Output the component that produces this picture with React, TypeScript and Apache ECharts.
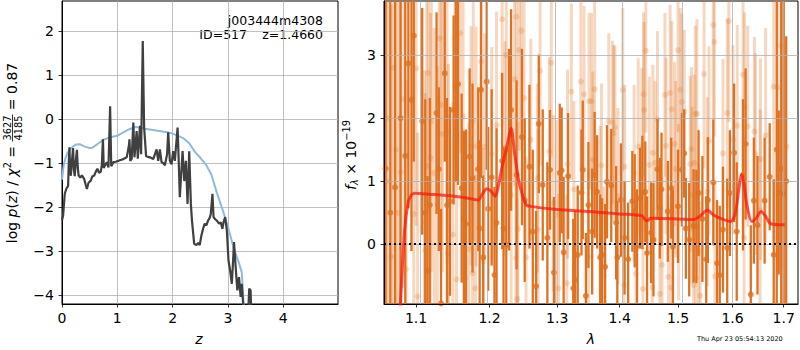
import React, { useEffect, useRef } from "react";
import * as echarts from "echarts";

// ---------- Left panel: log p(z) ----------
const zGrid = [0.0, 0.02, 0.05, 0.08, 0.11, 0.125, 0.135, 0.145, 0.16, 0.18, 0.2, 0.215, 0.23, 0.25, 0.27, 0.285, 0.3, 0.33, 0.36, 0.4, 0.43, 0.45, 0.48, 0.52, 0.55, 0.58, 0.61, 0.64, 0.67, 0.7, 0.72, 0.74, 0.755, 0.78, 0.81, 0.84, 0.87, 0.89, 0.93, 0.97, 1.02, 1.06, 1.11, 1.17, 1.21, 1.22, 1.235, 1.26, 1.29, 1.31, 1.35, 1.37, 1.41, 1.43, 1.46, 1.485, 1.52, 1.55, 1.59, 1.65, 1.71, 1.74, 1.77, 1.8, 1.83, 1.86, 1.9, 1.92, 1.95, 1.98, 2.01, 2.04, 2.09, 2.11, 2.13, 2.18, 2.21, 2.24, 2.27, 2.3, 2.33, 2.35, 2.39, 2.43, 2.46, 2.49, 2.52, 2.55, 2.58, 2.61, 2.64, 2.67, 2.69, 2.72, 2.74, 2.77, 2.8, 2.84, 2.87, 2.9, 2.92, 2.95, 2.98, 3.01, 3.04, 3.07, 3.09, 3.11, 3.14, 3.17, 3.2, 3.23, 3.25, 3.28, 3.31, 3.36, 3.385, 3.41, 3.43];
const logPz = [-2.3, -2.2, -1.7, -1.58, -1.52, -0.9, -0.64, -1.1, -1.29, -0.95, -0.66, -1.15, -1.3, -0.95, -0.7, -1.1, -1.28, -1.33, -1.28, -1.36, -1.5, -1.59, -1.45, -1.4, -1.3, -1.29, -1.2, -1.13, -1.22, -1.2, -1.05, -0.46, -1.11, -1.05, -0.98, -1.1, 0.29, -1.07, -0.98, -0.97, -0.95, -0.93, -0.91, -0.87, -0.6, -0.46, -0.95, -0.9, -0.08, -0.87, -0.27, -0.9, -0.15, -0.8, 1.78, -0.19, -0.84, -0.86, -0.87, -0.91, -0.69, -0.95, -0.69, -0.98, -1.0, -1.05, -0.8, -0.3, -0.95, -1.03, -0.73, -0.95, -0.19, -0.95, -1.78, -0.73, -1.41, -0.95, -1.93, -0.73, -1.93, -2.31, -2.84, -2.87, -2.82, -2.87, -2.65, -2.5, -2.38, -2.42, -2.31, -2.25, -2.16, -1.7, -2.23, -2.28, -2.31, -2.38, -2.35, -2.5, -2.35, -2.23, -2.53, -3.22, -3.45, -3.75, -3.3, -2.8, -3.37, -3.9, -3.6, -4.05, -3.75, -4.3, -4.6, -4.6, -3.86, -3.9, -4.8];

const zPrior = [0.0, 0.03, 0.06, 0.1, 0.15, 0.2, 0.25, 0.32, 0.4, 0.5, 0.55, 0.65, 0.75, 0.85, 1.0, 1.1, 1.2, 1.32, 1.4, 1.5, 1.7, 1.9, 2.0, 2.1, 2.2, 2.3, 2.4, 2.5, 2.6, 2.7, 2.8, 2.9, 3.0, 3.1, 3.2, 3.25, 3.27, 3.29];
const logPrior = [-1.38, -1.05, -0.9, -0.77, -0.68, -0.62, -0.58, -0.57, -0.62, -0.66, -0.65, -0.56, -0.47, -0.42, -0.38, -0.31, -0.24, -0.18, -0.19, -0.22, -0.26, -0.3, -0.33, -0.38, -0.44, -0.55, -0.74, -0.88, -1.03, -1.26, -1.68, -2.05, -2.45, -2.92, -3.28, -3.49, -3.9, -4.4];

const zTicks = [0, 1, 2, 3, 4];
const pzTicks = [-4, -3, -2, -1, 0, 1, 2];

// ---------- Right panel: spectrum ----------
const darkLam = [1.061, 1.067, 1.073, 1.08, 1.086, 1.09, 1.094, 1.097, 1.108, 1.112, 1.115, 1.118, 1.127, 1.13, 1.133, 1.138, 1.141, 1.145, 1.15, 1.153, 1.156, 1.161, 1.164, 1.167, 1.172, 1.176, 1.184, 1.186, 1.188, 1.191, 1.196, 1.198, 1.203, 1.207, 1.21, 1.218, 1.22, 1.224, 1.228, 1.231, 1.239, 1.247, 1.251, 1.258, 1.263, 1.268, 1.272, 1.278, 1.285, 1.289, 1.295, 1.304, 1.307, 1.31, 1.317, 1.325, 1.328, 1.332, 1.338, 1.34, 1.345, 1.349, 1.355, 1.359, 1.363, 1.368, 1.371, 1.376, 1.379, 1.386, 1.394, 1.396, 1.402, 1.408, 1.414, 1.421, 1.425, 1.429, 1.434, 1.438, 1.443, 1.446, 1.453, 1.457, 1.464, 1.468, 1.471, 1.482, 1.488, 1.491, 1.5, 1.507, 1.511, 1.514, 1.52, 1.528, 1.533, 1.537, 1.544, 1.551, 1.554, 1.564, 1.571, 1.576, 1.582, 1.59, 1.595, 1.603, 1.608, 1.62, 1.625, 1.635, 1.641, 1.648, 1.662, 1.672, 1.68, 1.686, 1.69, 1.695, 1.7, 1.705];
const darkFlux = [1.2, 0.5, 0.9, 2.0, 1.4, 2.87, 2.29, 3.31, 1.95, 0.5, -0.42, 0.62, 2.08, 1.19, -0.94, 2.71, 0.62, 0.68, 2.13, 2.49, 2.54, 0.89, 0.4, 0.32, 1.39, 1.05, 1.19, 0.25, 2.45, -0.21, 2.58, 0.56, 1.06, -0.49, 0.34, 1.32, 0.25, -0.01, 1.5, 2.13, 1.1, 1.7, 0.7, 1.23, 0.2, -0.67, 1.91, 0.94, 0.1, 1.18, -0.45, 1.13, 1.17, -0.13, 1.08, -0.7, -0.57, -0.17, 0.82, 1.18, -0.82, 0.62, 0.2, 1.1, 0.83, -0.21, -0.17, -0.36, 0.99, 0.93, 0.34, -0.21, 0.7, 0.1, -0.24, 0.68, 0.53, -0.03, 0.73, 0.82, 0.83, -0.14, 0.18, 0.07, 1.19, 0.57, 0.87, 0.52, 0.89, -0.04, 0.6, 1.18, 1.44, 0.25, 0.07, 0.29, 0.28, 0.81, 0.4, -0.24, 0.7, 0.98, -0.3, -0.49, 0.23, -0.06, 0.81, 1.45, 0.2, 1.1, 1.59, -0.8, 0.69, 0.3, 0.69, 1.07, -0.17, 1.5, 0.82, 1.2, 0.8, 1.0];
const darkErr = [4.0, 4.0, 3.8, 3.5, 3.0, 2.3, 2.4, 2.0, 1.8, 1.8, 1.5, 1.7, 1.6, 1.3, 1.5, 1.4, 1.7, 1.5, 1.5, 1.5, 1.6, 1.5, 1.4, 1.5, 1.4, 1.5, 1.3, 1.4, 1.4, 1.3, 1.4, 1.3, 1.4, 1.4, 1.5, 1.4, 1.3, 1.5, 1.6, 1.6, 1.5, 1.4, 1.3, 1.3, 1.3, 1.2, 1.1, 1.2, 1.2, 0.95, 1.2, 1.1, 1.0, 1.2, 1.0, 1.1, 1.1, 1.1, 1.0, 1.1, 1.0, 1.0, 1.0, 1.0, 0.9, 1.0, 0.9, 1.0, 0.9, 0.9, 0.9, 0.9, 0.9, 0.9, 0.9, 0.8, 0.9, 0.9, 0.8, 0.9, 0.8, 0.9, 0.8, 0.9, 0.8, 0.8, 0.9, 0.8, 0.8, 0.9, 0.9, 0.9, 0.7, 0.8, 0.9, 0.9, 0.9, 1.0, 1.0, 1.0, 1.0, 1.0, 1.0, 1.1, 1.0, 1.1, 1.0, 1.1, 1.1, 1.2, 1.2, 1.1, 1.0, 1.1, 1.0, 0.85, 1.2, 4.0, 1.3, 3.0, 4.5, 2.3];

const lightLam = [1.062, 1.065, 1.068, 1.071, 1.074, 1.077, 1.08, 1.084, 1.087, 1.097, 1.1, 1.102, 1.111, 1.112, 1.114, 1.116, 1.119, 1.12, 1.124, 1.128, 1.131, 1.133, 1.135, 1.141, 1.142, 1.143, 1.149, 1.152, 1.154, 1.159, 1.163, 1.166, 1.171, 1.174, 1.176, 1.177, 1.18, 1.181, 1.188, 1.191, 1.193, 1.203, 1.21, 1.218, 1.222, 1.224, 1.231, 1.236, 1.238, 1.239, 1.24, 1.241, 1.243, 1.246, 1.25, 1.253, 1.26, 1.27, 1.271, 1.274, 1.288, 1.291, 1.294, 1.299, 1.302, 1.315, 1.316, 1.322, 1.326, 1.337, 1.342, 1.349, 1.35, 1.354, 1.356, 1.359, 1.368, 1.37, 1.374, 1.382, 1.388, 1.39, 1.392, 1.397, 1.405, 1.407, 1.408, 1.424, 1.427, 1.431, 1.437, 1.439, 1.44, 1.441, 1.444, 1.45, 1.455, 1.456, 1.46, 1.464, 1.468, 1.472, 1.477, 1.479, 1.483, 1.486, 1.488, 1.489, 1.494, 1.496, 1.5, 1.501, 1.504, 1.507, 1.511, 1.522, 1.524, 1.525, 1.528, 1.529, 1.531, 1.532, 1.534, 1.537, 1.54, 1.547, 1.553, 1.556, 1.564, 1.566, 1.567, 1.582, 1.59, 1.593, 1.601, 1.609, 1.62, 1.622, 1.623, 1.629, 1.642, 1.644, 1.653, 1.654, 1.664, 1.68, 1.688, 1.695, 1.706];
const lightFlux = [1.0, 2.0, -0.2, 2.8, 1.5, 0.5, 1.14, 2.3, -0.4, 0.48, 2.79, -0.83, 0.36, -0.1, 1.24, 2.72, 1.37, 1.95, 1.13, 0.63, 3.27, 2.21, 1.75, 1.79, -0.15, 0.86, 0.15, 3.28, -0.56, 3.35, 2.03, -0.54, -0.08, 1.56, -0.46, 1.95, -0.7, 1.55, 2.9, -0.28, 1.55, 1.43, 1.89, 3.57, 1.52, 3.0, 0.77, 2.62, -0.22, 3.61, -0.87, 0.24, 3.08, 3.39, 2.32, -0.21, 1.66, 1.05, 0.23, 2.75, 1.47, 2.88, 0.65, 0.47, -0.7, -0.62, 1.27, 2.42, 0.87, 2.58, 2.38, -0.2, 2.27, 2.27, 1.34, 2.46, 0.48, 1.25, -0.49, 1.95, 1.93, 1.76, 1.85, 0.76, 2.45, -0.65, 1.23, 1.13, -0.47, 1.55, 1.5, -0.71, 2.38, 2.13, 3.07, 1.26, -0.69, 1.45, 1.29, 1.98, -0.79, -0.33, 2.37, 1.56, -0.52, 2.4, -0.69, 2.14, 1.59, 1.19, 3.08, 0.51, 2.45, 2.26, 2.1, 1.27, 1.51, 0.78, -0.65, 1.29, 2.07, -0.54, 2.07, -0.12, -0.82, 2.7, 0.83, 1.64, 3.48, 3.21, -0.51, 1.44, 2.08, 3.54, 1.66, 1.88, 2.69, 0.1, 2.18, 1.87, 1.79, 1.43, 0.54, 1.35, 1.73, 2.5, 2.49, 3.15, 1.55];
const lightErr = [4.0, 4.0, 4.0, 4.0, 3.5, 3.5, 3.0, 3.0, 3.0, 2.8, 2.5, 2.6, 2.4, 2.5, 2.6, 2.2, 2.3, 2.4, 2.3, 2.2, 2.0, 2.3, 2.2, 2.1, 2.2, 2.0, 2.1, 2.0, 2.0, 1.9, 2.0, 1.9, 2.0, 1.9, 1.8, 1.9, 1.8, 1.9, 1.8, 1.8, 1.8, 1.7, 1.8, 1.7, 1.7, 1.8, 1.7, 1.7, 1.6, 1.6, 1.6, 1.7, 1.6, 1.7, 1.6, 1.6, 1.6, 1.5, 1.6, 1.5, 1.5, 1.5, 1.4, 1.5, 1.5, 1.4, 1.5, 1.4, 1.4, 1.4, 1.4, 1.4, 1.4, 1.4, 1.4, 1.4, 1.4, 1.3, 1.4, 1.4, 1.3, 1.4, 1.3, 1.4, 1.3, 1.4, 1.3, 1.4, 1.3, 1.4, 1.3, 1.4, 1.3, 1.4, 1.3, 1.4, 1.3, 1.4, 1.3, 1.4, 1.3, 1.4, 1.3, 1.4, 1.3, 1.4, 1.3, 1.4, 1.3, 1.4, 1.3, 1.4, 1.3, 1.4, 1.3, 1.4, 1.3, 1.4, 1.4, 1.4, 1.4, 1.4, 1.5, 1.4, 1.5, 1.5, 1.5, 1.5, 1.5, 1.5, 1.5, 1.5, 1.5, 1.6, 1.5, 1.6, 1.5, 1.6, 1.5, 1.6, 1.5, 1.6, 1.6, 1.6, 1.7, 2.5, 3.0, 3.5];

const modelLam = [1.079, 1.085, 1.09, 1.094, 1.097, 1.12, 1.15, 1.17, 1.184, 1.19, 1.196, 1.202, 1.208, 1.213, 1.218, 1.225, 1.231, 1.236, 1.243, 1.253, 1.26, 1.3, 1.35, 1.4, 1.437, 1.441, 1.446, 1.452, 1.5, 1.528, 1.54, 1.553, 1.565, 1.58, 1.596, 1.605, 1.612, 1.617, 1.621, 1.628, 1.637, 1.646, 1.655, 1.664, 1.673, 1.69, 1.702];
const modelFlux = [-1.2, 0.2, 0.68, 0.78, 0.81, 0.79, 0.76, 0.73, 0.7, 0.8, 0.88, 0.84, 0.76, 0.95, 1.23, 1.56, 1.84, 1.45, 0.97, 0.63, 0.6, 0.55, 0.52, 0.48, 0.45, 0.41, 0.37, 0.41, 0.4, 0.39, 0.45, 0.54, 0.46, 0.4, 0.36, 0.48, 0.87, 1.1, 1.0, 0.6, 0.36, 0.42, 0.52, 0.44, 0.33, 0.31, 0.31];

const lamTicks = [1.1, 1.2, 1.3, 1.4, 1.5, 1.6, 1.7];
const fluxTicks = [0, 1, 2, 3];

const FONT = '"DejaVu Sans", sans-serif';
const RY_MIN = -0.95;
const RY_MAX = 3.86;
const DARK = "#df7222";
const LIGHT = "rgba(224,113,28,0.28)";

function minusFmt(v: number) {
  return v < 0 ? "\u2212" + String(Math.abs(v)) : String(v);
}

export default function App() {
  const ref = useRef<HTMLDivElement>(null);
  useEffect(() => {
    document.body.style.margin = "0";
    const chart = echarts.init(ref.current!, null, { renderer: "svg" });

    const ctx = document.createElement("canvas").getContext("2d")!;
    const tw = (t: string, s: number, it = false) => {
      ctx.font = `${it ? "italic " : ""}${s}px "DejaVu Sans"`;
      return ctx.measureText(t).width;
    };
    const txt = (t: string, x: number, y: number, s: number, it = false, align = "left") => ({
      type: "text",
      x,
      y,
      silent: true,
      style: {
        text: t,
        fill: "#000",
        font: `${it ? "italic " : ""}${s}px ${FONT}`,
        align,
        verticalAlign: "middle",
      },
    });

    type Part = { t?: string; s: number; it?: boolean; dy?: number; frac?: [string, string] };
    const leftParts: Part[] = [
      { t: "log ", s: 14 },
      { t: "p", s: 14, it: true },
      { t: "(", s: 14 },
      { t: "z", s: 14, it: true },
      { t: ") / ", s: 14 },
      { t: "\u03c7", s: 14, it: true },
      { t: "2", s: 9.8, dy: -5 },
      { t: " = ", s: 14 },
      { frac: ["3627", "4185"], s: 9.8 },
      { t: " = 0.87", s: 14 },
    ];
    const buildLabel = (parts: Part[]) => {
      const widths = parts.map((p) =>
        p.frac ? Math.max(tw(p.frac[0], p.s), tw(p.frac[1], p.s)) + 2 : tw(p.t!, p.s, p.it)
      );
      const total = widths.reduce((a, b) => a + b, 0);
      let cur = -total / 2;
      const children: any[] = [];
      parts.forEach((p, i) => {
        if (p.frac) {
          const w = widths[i];
          children.push(txt(p.frac[0], cur + w / 2, -5, p.s, false, "center"));
          children.push(txt(p.frac[1], cur + w / 2, 6, p.s, false, "center"));
          children.push({ type: "rect", silent: true, shape: { x: cur, y: 0, width: w, height: 0.8 }, style: { fill: "#000" } });
        } else {
          children.push(txt(p.t!, cur, p.dy || 0, p.s, p.it));
        }
        cur += widths[i];
      });
      return children;
    };
    const rightParts: Part[] = [
      { t: "f", s: 14, it: true },
      { t: "\u03bb", s: 9.8, it: true, dy: 3 },
      { t: " \u00d7 10", s: 14 },
      { t: "\u221219", s: 9.8, dy: -5 },
    ];

    const errSeries = (lam: number[], flux: number[], err: number[], color: string, width: number, z: number) => ({
      type: "custom",
      xAxisIndex: 1,
      yAxisIndex: 1,
      silent: true,
      z,
      data: lam.map((l, i) => [Math.log(l), flux[i] - err[i], flux[i] + err[i]]),
      renderItem: (params: any, api: any) => {
        const x = api.value(0);
        const lo = Math.max(api.value(1), RY_MIN);
        const hi = Math.min(api.value(2), RY_MAX);
        if (hi <= lo) return null;
        const p1 = api.coord([x, lo]);
        const p2 = api.coord([x, hi]);
        return {
          type: "line",
          shape: { x1: p1[0], y1: p1[1], x2: p2[0], y2: p2[1] },
          style: { stroke: color, lineWidth: width },
        };
      },
    });

    const axisCommon = {
      axisLine: { show: true, onZero: false, lineStyle: { color: "#000", width: 1 } },
      axisTick: { show: true, inside: false, length: 3.5, lineStyle: { color: "#000", width: 0.8 } },
      splitLine: { show: true, lineStyle: { color: "#b0b0b0", width: 0.8 } },
    };
    const labelCommon = { color: "#000", fontSize: 14, fontFamily: FONT };

    const option: any = {
      animation: false,
      backgroundColor: "#fff",
      grid: [
        { left: 62, top: 1, width: 276, height: 303, show: true, borderColor: "#000", borderWidth: 1, backgroundColor: "transparent" },
        { left: 384, top: 1, width: 414, height: 303, show: true, borderColor: "#000", borderWidth: 1, backgroundColor: "transparent" },
      ],
      xAxis: [
        {
          type: "value",
          gridIndex: 0,
          min: 0,
          max: 4.99,
          interval: 1,
          ...axisCommon,
          axisLabel: { ...labelCommon, margin: 7, formatter: (v: number) => String(v), customValues: zTicks },
          axisTick: { ...axisCommon.axisTick, customValues: zTicks },
        },
        {
          type: "value",
          gridIndex: 1,
          min: Math.log(1.059),
          max: Math.log(1.729),
          z: 5,
          ...axisCommon,
          splitLine: { show: false },
          axisTick: { ...axisCommon.axisTick, customValues: lamTicks.map((l) => Math.log(l)) },
          axisLabel: {
            ...labelCommon,
            margin: 7,
            customValues: lamTicks.map((l) => Math.log(l)),
            formatter: (v: number) => Math.exp(v).toFixed(1),
          },
        },
      ],
      yAxis: [
        {
          type: "value",
          gridIndex: 0,
          min: -4.21,
          max: 2.69,
          ...axisCommon,
          axisTick: { ...axisCommon.axisTick, customValues: pzTicks },
          axisLabel: { ...labelCommon, margin: 8, customValues: pzTicks, formatter: minusFmt },
        },
        {
          type: "value",
          gridIndex: 1,
          min: RY_MIN,
          max: RY_MAX,
          z: 5,
          ...axisCommon,
          axisTick: { ...axisCommon.axisTick, customValues: fluxTicks },
          axisLabel: { ...labelCommon, margin: 8, customValues: fluxTicks, formatter: minusFmt },
        },
      ],
      series: [
        {
          type: "line",
          xAxisIndex: 0,
          yAxisIndex: 0,
          data: zPrior.map((z, i) => [z, logPrior[i]]),
          showSymbol: false,
          symbol: "none",
          lineStyle: { color: "#8fbbd9", width: 2 },
          clip: true,
          silent: true,
          z: 2,
        },
        {
          type: "line",
          xAxisIndex: 0,
          yAxisIndex: 0,
          data: zGrid.map((z, i) => [z, logPz[i]]),
          showSymbol: false,
          symbol: "none",
          lineStyle: { color: "#404040", width: 2.2 },
          clip: true,
          silent: true,
          z: 3,
        },
        errSeries(lightLam, lightFlux, lightErr, LIGHT, 3, 1),
        {
          type: "scatter",
          xAxisIndex: 1,
          yAxisIndex: 1,
          data: lightLam.map((l, i) => [Math.log(l), lightFlux[i]]),
          symbolSize: 6,
          itemStyle: { color: LIGHT, borderWidth: 0 },
          clip: true,
          silent: true,
          z: 2,
        },
        errSeries(darkLam, darkFlux, darkErr, DARK, 2.3, 3),
        {
          type: "scatter",
          xAxisIndex: 1,
          yAxisIndex: 1,
          data: darkLam.map((l, i) => [Math.log(l), darkFlux[i]]),
          symbolSize: 6,
          itemStyle: { color: DARK, borderWidth: 0 },
          clip: true,
          silent: true,
          z: 4,
          markLine: {
            silent: true,
            symbol: "none",
            label: { show: false },
            lineStyle: { color: "#b0b0b0", width: 0.8, type: "solid" },
            data: lamTicks.map((l) => ({ xAxis: Math.log(l) })),
          },
        },
        {
          type: "line",
          xAxisIndex: 1,
          yAxisIndex: 1,
          data: modelLam.map((l, i) => [Math.log(l), modelFlux[i]]),
          showSymbol: false,
          symbol: "none",
          smooth: 0.3,
          lineStyle: { color: "rgba(255,20,10,0.72)", width: 3 },
          clip: true,
          silent: true,
          z: 6,
          markLine: {
            silent: true,
            symbol: "none",
            label: { show: false },
            lineStyle: { color: "#000", width: 2, type: [2, 3] },
            data: [{ yAxis: 0 }],
          },
        },
      ],
      graphic: [
        { type: "group", x: 12, y: 153, rotation: Math.PI / 2, children: buildLabel(leftParts) },
        { type: "group", x: 351, y: 155, rotation: Math.PI / 2, children: buildLabel(rightParts) },
        txt("z", 199, 339, 14, true, "center"),
        txt("\u03bb", 591, 339, 14, true, "center"),
        txt("j003444m4308", 323, 20, 12.5, false, "right"),
        txt("ID=517", 247, 34, 12.5, false, "right"),
        txt("z=1.4660", 323, 34, 12.5, false, "right"),
        txt("Thu Apr 23 05:54:13 2020", 697, 339, 6.5, false, "left"),
      ],
    };
    chart.setOption(option);
    return () => chart.dispose();
  }, []);
  return (
    <div
      ref={ref}
      style={{ position: "absolute", left: 0, top: 0, width: 800, height: 350, background: "#fff" }}
    />
  );
}
